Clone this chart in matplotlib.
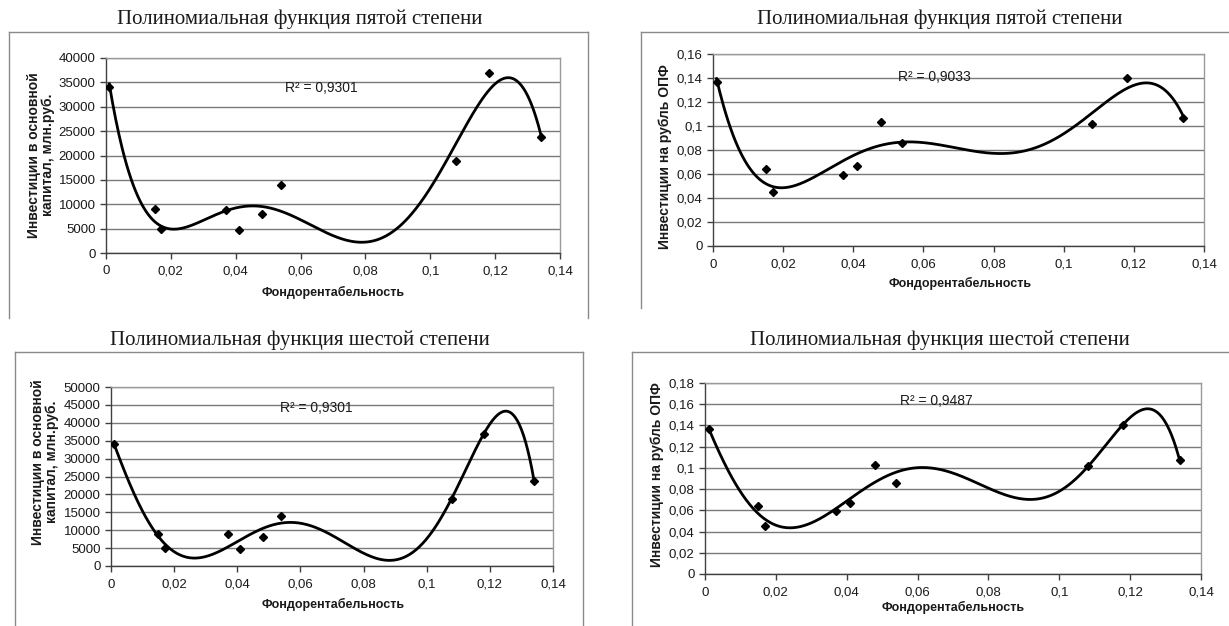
import matplotlib.pyplot as plt
import numpy as np
from matplotlib.lines import Line2D
from matplotlib.ticker import FuncFormatter, MultipleLocator

W, H = 1229, 626

# Фондорентабельность предприятий (ось X для всех графиков)
fondorent = [0.001, 0.015, 0.017, 0.037, 0.041, 0.048, 0.054, 0.108, 0.118, 0.134]
# Инвестиции в основной капитал, млн руб.
investicii = [34000, 9000, 5000, 8800, 4800, 8000, 14000, 18800, 37000, 23800]
# Инвестиции на рубль ОПФ
inv_na_rubl = [0.137, 0.064, 0.045, 0.059, 0.067, 0.103, 0.086, 0.102, 0.140, 0.107]

titles = [
    "Полиномиальная функция пятой степени",
    "Полиномиальная функция пятой степени",
    "Полиномиальная функция шестой степени",
    "Полиномиальная функция шестой степени",
]
degrees = [5, 5, 6, 6]
r2_labels = ["R² = 0,9301", "R² = 0,9033", "R² = 0,9301", "R² = 0,9487"]
ylabel_inv = "Инвестиции в основной\nкапитал, млн.руб."
ylabel_rubl = "Инвестиции на рубль ОПФ"
xlabel = "Фондорентабельность"

# Раскладка панелей в пикселях: область построения, рамка, подписи
PANELS = [
    {"y": investicii, "ylim": (0, 40000), "ystep": 5000, "ylabel": ylabel_inv,
     "plot": (106, 560, 58, 253), "frame": (9, 588, 32, 318),
     "title": (300, 19), "r2": (285, 88), "xl": (333, 292), "yl": (41, 155)},
    {"y": inv_na_rubl, "ylim": (0, 0.16), "ystep": 0.02, "ylabel": ylabel_rubl,
     "plot": (713, 1204, 54, 246), "frame": (641, None, 32, 308),
     "title": (940, 19), "r2": (898, 77), "xl": (960, 283), "yl": (665, 157)},
    {"y": investicii, "ylim": (0, 50000), "ystep": 5000, "ylabel": ylabel_inv,
     "plot": (111, 553, 387, 566), "frame": (15, 583, 352, 626),
     "title": (300, 340), "r2": (280, 408), "xl": (333, 604), "yl": (45, 462)},
    {"y": inv_na_rubl, "ylim": (0, 0.18), "ystep": 0.02, "ylabel": ylabel_rubl,
     "plot": (705, 1201, 383, 574), "frame": (632, None, 352, 626),
     "title": (940, 340), "r2": (900, 401), "xl": (953, 607), "yl": (657, 475)},
]

SANS = "Liberation Sans"
SERIF = "Liberation Serif"
TXT = "#1a1a1a"


def excel_fmt(v, pos=None):
    """Подписи делений в стиле Excel: без лишних нулей, десятичная запятая."""
    if abs(v - round(v)) < 1e-9:
        return str(int(round(v)))
    return f"{v:.4f}".rstrip("0").rstrip(".").replace(".", ",")


def fx(px):
    return px / W


def fy(py):
    return 1 - py / H


fig = plt.figure(figsize=(W / 100, H / 100), dpi=100)
fig.patch.set_facecolor("white")

x = np.array(fondorent)
xs = np.linspace(min(fondorent), max(fondorent), 400)

for i, cfg in enumerate(PANELS):
    left, right, top, bottom = cfg["plot"]
    ax = fig.add_axes([fx(left), fy(bottom), fx(right - left), (bottom - top) / H])
    y = np.array(cfg["y"], dtype=float)

    # полиномиальный тренд нужной степени
    coefs = np.polyfit(x, y, degrees[i])
    ax.plot(xs, np.polyval(coefs, xs), color="black", lw=2.0, zorder=3)
    ax.plot(x, y, linestyle="none", marker="D", markersize=3.8, color="black", zorder=4)

    ax.set_xlim(0, 0.14)
    ax.set_ylim(*cfg["ylim"])
    ax.xaxis.set_major_locator(MultipleLocator(0.02))
    ax.yaxis.set_major_locator(MultipleLocator(cfg["ystep"]))
    ax.xaxis.set_major_formatter(FuncFormatter(excel_fmt))
    ax.yaxis.set_major_formatter(FuncFormatter(excel_fmt))
    ax.grid(axis="y", color="#7a7a7a", lw=1.0)
    ax.set_axisbelow(True)

    for side in ("top", "right"):
        ax.spines[side].set_color("#9a9a9a")
        ax.spines[side].set_linewidth(1.0)
    for side in ("left", "bottom"):
        ax.spines[side].set_color("#404040")
        ax.spines[side].set_linewidth(1.0)

    ax.tick_params(axis="both", direction="out", length=4, width=1, color="#404040",
                   labelsize=9.5, labelcolor=TXT)
    ax.tick_params(axis="x", pad=5)
    for lab in ax.get_xticklabels() + ax.get_yticklabels():
        lab.set_fontfamily(SANS)

    # рамка области диаграммы
    fl, fr, ft, fb = cfg["frame"]
    fr_px = fr if fr is not None else W + 5
    frame_kw = dict(color="#8a8a8a", lw=1.0, transform=fig.transFigure)
    fig.add_artist(Line2D([fx(fl), fx(fr_px)], [fy(ft), fy(ft)], **frame_kw))
    fig.add_artist(Line2D([fx(fl), fx(fl)], [fy(ft), fy(fb)], **frame_kw))
    if fr is not None:
        fig.add_artist(Line2D([fx(fr), fx(fr)], [fy(ft), fy(fb)], **frame_kw))

    tx, ty = cfg["title"]
    fig.text(fx(tx), fy(ty), titles[i], ha="center", va="center",
             fontsize=15, family=SERIF, color=TXT)
    rx, ry = cfg["r2"]
    fig.text(fx(rx), fy(ry), r2_labels[i], ha="left", va="center",
             fontsize=10, family=SANS, color=TXT)
    lx, ly = cfg["xl"]
    fig.text(fx(lx), fy(ly), xlabel, ha="center", va="center",
             fontsize=9, family=SANS, weight="bold", color=TXT)
    yx, yy = cfg["yl"]
    fig.text(fx(yx), fy(yy), cfg["ylabel"], ha="center", va="center", rotation=90,
             fontsize=10, family=SANS, weight="bold", color=TXT, linespacing=1.05)

fig.savefig("out.png", dpi=100, facecolor="white")
